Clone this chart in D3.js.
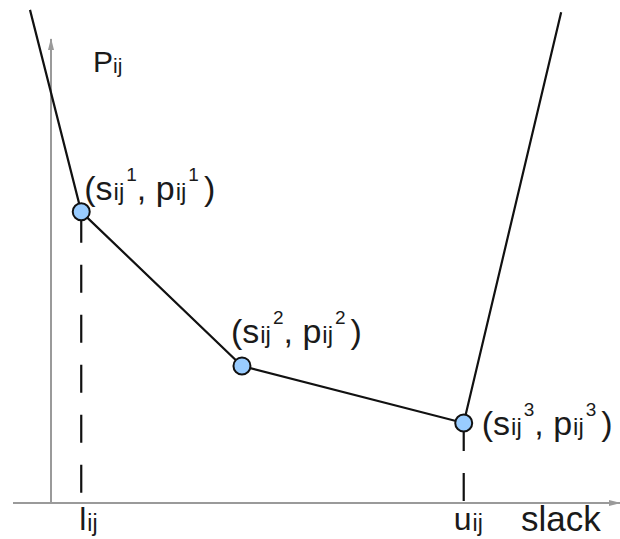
<!DOCTYPE html>
<html>
<head>
<meta charset="utf-8">
<script src="https://cdn.jsdelivr.net/npm/d3@7"></script>
<style>
  body { margin: 0; background: #fff; }
  text { font-family: "Liberation Sans", Arial, sans-serif; fill: #1a1a1a; }
</style>
</head>
<body>
<div id="chart"></div>
<script>
// piecewise linear cost curve (slack -> penalty)
const curveX = [-0.375, 0.54, 3.41, 7.37, 9.11];
const curveY = [10.72, 6.33, 2.98, 1.74, 10.67];
// breakpoints (s_ij^k, p_ij^k) are the inner three vertices
const breakIdx = [1, 2, 3];
const breakNames = ["1", "2", "3"];
// bounds drawn as dashed drop lines
const boundIdx = [1, 3];
const boundNames = ["l", "u"];

const width = 620;
const height = 539;

const svg = d3
  .select("#chart")
  .append("svg")
  .attr("width", width)
  .attr("height", height);

const x = d3.scaleLinear().domain([0, 10]).range([51, 611]);
const y = d3.scaleLinear().domain([0, 10]).range([503, 43]);

// arrow heads
const defs = svg.append("defs");
defs
  .append("marker")
  .attr("id", "arrow")
  .attr("viewBox", "0 0 12 8")
  .attr("refX", 11)
  .attr("refY", 4)
  .attr("markerWidth", 12)
  .attr("markerHeight", 8)
  .attr("markerUnits", "userSpaceOnUse")
  .attr("orient", "auto")
  .append("path")
  .attr("d", "M0,1 L12,4 L0,7 Z")
  .attr("fill", "#9a9a9a");

// axes
svg
  .append("line")
  .attr("x1", 13)
  .attr("x2", 620)
  .attr("y1", y(0))
  .attr("y2", y(0))
  .attr("stroke", "#9a9a9a")
  .attr("stroke-width", 2)
  .attr("marker-end", "url(#arrow)");

svg
  .append("line")
  .attr("x1", x(0))
  .attr("x2", x(0))
  .attr("y1", y(0))
  .attr("y2", 39)
  .attr("stroke", "#9a9a9a")
  .attr("stroke-width", 2)
  .attr("marker-end", "url(#arrow)");

// dashed drop lines for l_ij and u_ij
svg
  .selectAll(".drop")
  .data(boundIdx)
  .enter()
  .append("line")
  .attr("class", "drop")
  .attr("x1", (i) => x(curveX[i]))
  .attr("x2", (i) => x(curveX[i]))
  .attr("y1", (i) => y(curveY[i]))
  .attr("y2", y(0) - 2)
  .attr("stroke", "#111")
  .attr("stroke-width", 2.2)
  .attr("stroke-dasharray", "28,22")
  .attr("stroke-dashoffset", (i, k) => (k === 0 ? -3 : 0));

// the curve
const line = d3
  .line()
  .x((d, i) => x(curveX[i]))
  .y((d, i) => y(curveY[i]));

svg
  .append("path")
  .datum(curveX)
  .attr("d", line)
  .attr("fill", "none")
  .attr("stroke", "#111")
  .attr("stroke-width", 2.2);

// breakpoints
svg
  .selectAll(".pt")
  .data(breakIdx)
  .enter()
  .append("circle")
  .attr("class", "pt")
  .attr("cx", (i) => x(curveX[i]))
  .attr("cy", (i) => y(curveY[i]))
  .attr("r", 8.5)
  .attr("fill", "#99ccff")
  .attr("stroke", "#111")
  .attr("stroke-width", 2);

// label like (s_ij^k, p_ij^k)
const labelOffset = [
  [3, -12],
  [-11, -23],
  [18, 12],
];
breakIdx.forEach((idx, k) => {
  const t = svg
    .append("text")
    .attr("x", x(curveX[idx]) + labelOffset[k][0])
    .attr("y", y(curveY[idx]) + labelOffset[k][1])
    .attr("font-size", 34);
  t.append("tspan").text("(s");
  t.append("tspan").attr("font-size", 24).attr("dx", 1).text("ij");
  t.append("tspan").attr("font-size", 19).attr("dx", 2).attr("dy", -19).text(breakNames[k]);
  t.append("tspan").attr("dy", 19).text(", p");
  t.append("tspan").attr("font-size", 24).attr("dx", 1).text("ij");
  t.append("tspan").attr("font-size", 19).attr("dx", 2).attr("dy", -19).text(breakNames[k]);
  t.append("tspan").attr("dx", 5).attr("dy", 19).text(")");
});

// bound labels under the x axis
boundIdx.forEach((idx, k) => {
  const t = svg
    .append("text")
    .attr("x", x(curveX[idx]) - 2 - (k === 1 ? 8 : 0))
    .attr("y", 530)
    .attr("font-size", 32);
  t.append("tspan").text(boundNames[k]);
  t.append("tspan").attr("font-size", 23).attr("dx", 1).attr("dy", 1).text("ij");
});

// axis titles
const yTitle = svg
  .append("text")
  .attr("x", 93)
  .attr("y", 72)
  .attr("font-size", 30);
yTitle.append("tspan").text("P");
yTitle.append("tspan").attr("font-size", 21).attr("dy", 1).text("ij");

svg
  .append("text")
  .attr("x", 521)
  .attr("y", 531)
  .attr("font-size", 35)
  .text("slack");
</script>
</body>
</html>
